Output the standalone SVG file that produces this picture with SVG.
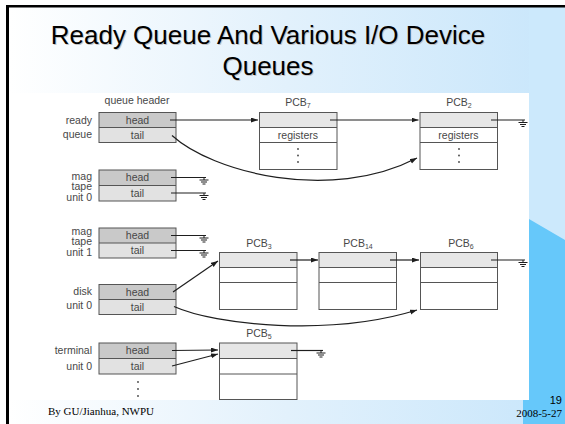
<svg xmlns="http://www.w3.org/2000/svg" width="565" height="424" viewBox="0 0 565 424">
<defs>
<linearGradient id="bg" x1="0" y1="0" x2="1" y2="0">
<stop offset="0" stop-color="#ffffff"/>
<stop offset="0.5" stop-color="#e2f1fc"/>
<stop offset="1" stop-color="#c8e6fb"/>
</linearGradient>
<marker id="ah" markerUnits="userSpaceOnUse" markerWidth="8" markerHeight="6" refX="7" refY="2.5" orient="auto">
<path d="M0,0 L7,2.5 L0,5 z" fill="#1e1e1e"/>
</marker>
<style>
.box{fill:none;stroke:#555;stroke-width:1}
.hd{fill:#c9c9c9}
.tl{fill:#e2e2e2}
.pr{fill:#e6e6e6}
.t{font-family:"Liberation Sans",Arial,sans-serif;font-size:10.5px;fill:#474747}
.m{text-anchor:middle}
.r{text-anchor:end}
.ln{fill:none;stroke:#1e1e1e;stroke-width:1.2}
.gnd{fill:none;stroke:#1e1e1e;stroke-width:1}
.title{font-family:"Liberation Sans",Arial,sans-serif;font-size:26px;text-anchor:middle}
.foot{font-family:"Liberation Serif","Times New Roman",serif;font-size:11px;fill:#000}
</style>
</defs>
<!-- slide background -->
<rect x="0" y="0" width="565" height="424" fill="#ffffff"/>
<rect x="9" y="7" width="556" height="417" fill="url(#bg)"/>
<rect x="529" y="7" width="36" height="417" fill="#cce9fc"/>
<polygon points="529,219 565,240 565,424 523,424 523,400 529,400" fill="#66c8fa"/>
<rect x="6" y="5" width="559" height="2.5" fill="#000"/>
<rect x="6" y="5" width="3" height="419" fill="#000"/>
<!-- title -->
<g id="title">
<text class="title" x="269" y="45" fill="#c4c4c4">Ready Queue And Various I/O Device</text>
<text class="title" x="268" y="44" fill="#000">Ready Queue And Various I/O Device</text>
<text class="title" x="269" y="76" fill="#c4c4c4">Queues</text>
<text class="title" x="268" y="75" fill="#000">Queues</text>
</g>
<!-- diagram picture area -->
<rect x="9" y="93" width="520" height="307" fill="#ffffff"/>
<text class="t m" x="137" y="104">queue header</text>

<g id="ready-queue">
<rect class="hd" x="99" y="112.5" width="77" height="15"/>
<rect class="tl" x="99" y="127.5" width="77" height="15"/>
<rect class="box" x="99" y="112.5" width="77" height="30"/>
<line class="box" x1="99" y1="127.5" x2="176" y2="127.5"/>
<text class="t m" x="137.5" y="123.5">head</text>
<text class="t m" x="137.5" y="138.5">tail</text>
<text class="t r" x="92" y="123.5">ready</text>
<text class="t r" x="92" y="138">queue</text>
</g>

<g id="mag-tape-0">
<rect class="hd" x="99" y="170" width="77" height="15.5"/>
<rect class="tl" x="99" y="185.5" width="77" height="15.5"/>
<rect class="box" x="99" y="170" width="77" height="31"/>
<line class="box" x1="99" y1="185.5" x2="176" y2="185.5"/>
<text class="t m" x="137.5" y="181">head</text>
<text class="t m" x="137.5" y="196.5">tail</text>
<text class="t r" x="92" y="179.5">mag</text>
<text class="t r" x="92" y="190">tape</text>
<text class="t r" x="92" y="200.5">unit 0</text>
</g>

<g id="mag-tape-1">
<rect class="hd" x="99" y="228" width="77" height="15"/>
<rect class="tl" x="99" y="243" width="77" height="15"/>
<rect class="box" x="99" y="228" width="77" height="30"/>
<line class="box" x1="99" y1="243" x2="176" y2="243"/>
<text class="t m" x="137.5" y="239">head</text>
<text class="t m" x="137.5" y="254">tail</text>
<text class="t r" x="92" y="234.5">mag</text>
<text class="t r" x="92" y="245">tape</text>
<text class="t r" x="92" y="255.5">unit 1</text>
</g>

<g id="disk-unit-0">
<rect class="hd" x="99" y="284.5" width="77" height="15"/>
<rect class="tl" x="99" y="299.5" width="77" height="15"/>
<rect class="box" x="99" y="284.5" width="77" height="30"/>
<line class="box" x1="99" y1="299.5" x2="176" y2="299.5"/>
<text class="t m" x="137.5" y="295.5">head</text>
<text class="t m" x="137.5" y="310.5">tail</text>
<text class="t r" x="92" y="295">disk</text>
<text class="t r" x="92" y="308.5">unit 0</text>
</g>

<g id="terminal-unit-0">
<rect class="hd" x="99" y="343" width="77" height="15.5"/>
<rect class="tl" x="99" y="358.5" width="77" height="15.5"/>
<rect class="box" x="99" y="343" width="77" height="31"/>
<line class="box" x1="99" y1="358.5" x2="176" y2="358.5"/>
<text class="t m" x="137.5" y="354">head</text>
<text class="t m" x="137.5" y="369.5">tail</text>
<text class="t r" x="92" y="354">terminal</text>
<text class="t r" x="92" y="369.5">unit 0</text>
<circle cx="138" cy="382" r="0.9" fill="#444"/>
<circle cx="138" cy="389" r="0.9" fill="#444"/>
<circle cx="138" cy="396" r="0.9" fill="#444"/>
</g>

<g id="pcb7">
<text class="t m" x="298" y="106">PCB<tspan font-size="7" dy="2">7</tspan></text>
<rect class="pr" x="259.5" y="112.5" width="77.5" height="15"/>
<rect class="box" x="259.5" y="112.5" width="77.5" height="57"/>
<line class="box" x1="259.5" y1="127.5" x2="337" y2="127.5"/>
<line class="box" x1="259.5" y1="142.5" x2="337" y2="142.5"/>
<text class="t m" x="298" y="138.5">registers</text>
<circle cx="298" cy="149" r="0.9" fill="#444"/>
<circle cx="298" cy="155.5" r="0.9" fill="#444"/>
<circle cx="298" cy="162" r="0.9" fill="#444"/>
</g>

<g id="pcb2">
<text class="t m" x="459" y="106">PCB<tspan font-size="7" dy="2">2</tspan></text>
<rect class="pr" x="420" y="112.5" width="77.5" height="15"/>
<rect class="box" x="420" y="112.5" width="77.5" height="57"/>
<line class="box" x1="420" y1="127.5" x2="497.5" y2="127.5"/>
<line class="box" x1="420" y1="142.5" x2="497.5" y2="142.5"/>
<text class="t m" x="458.5" y="138.5">registers</text>
<circle cx="459" cy="149" r="0.9" fill="#444"/>
<circle cx="459" cy="155.5" r="0.9" fill="#444"/>
<circle cx="459" cy="162" r="0.9" fill="#444"/>
</g>

<g id="pcb3">
<text class="t m" x="259" y="247">PCB<tspan font-size="7" dy="2">3</tspan></text>
<rect class="pr" x="219.5" y="252.5" width="77.5" height="15"/>
<rect class="box" x="219.5" y="252.5" width="77.5" height="57"/>
<line class="box" x1="219.5" y1="267.5" x2="297" y2="267.5"/>
<line class="box" x1="219.5" y1="282.5" x2="297" y2="282.5"/>
</g>

<g id="pcb14">
<text class="t m" x="358" y="247">PCB<tspan font-size="7" dy="2">14</tspan></text>
<rect class="pr" x="319" y="252.5" width="77.5" height="15"/>
<rect class="box" x="319" y="252.5" width="77.5" height="57"/>
<line class="box" x1="319" y1="267.5" x2="396.5" y2="267.5"/>
<line class="box" x1="319" y1="282.5" x2="396.5" y2="282.5"/>
</g>

<g id="pcb6">
<text class="t m" x="461" y="247">PCB<tspan font-size="7" dy="2">6</tspan></text>
<rect class="pr" x="420.5" y="252.5" width="77" height="15"/>
<rect class="box" x="420.5" y="252.5" width="77" height="57"/>
<line class="box" x1="420.5" y1="267.5" x2="497.5" y2="267.5"/>
<line class="box" x1="420.5" y1="282.5" x2="497.5" y2="282.5"/>
</g>

<g id="pcb5">
<text class="t m" x="259" y="337">PCB<tspan font-size="7" dy="2">5</tspan></text>
<rect class="pr" x="219.5" y="343" width="77.5" height="15.5"/>
<rect class="box" x="219.5" y="343" width="77.5" height="56.5"/>
<line class="box" x1="219.5" y1="358.5" x2="297" y2="358.5"/>
<line class="box" x1="219.5" y1="374" x2="297" y2="374"/>
</g>

<g id="connectors">
<path class="ln" d="M170,120 H258" marker-end="url(#ah)"/>
<path class="ln" d="M330,120 H418.5" marker-end="url(#ah)"/>
<path class="ln" d="M172,135.5 C212,172 330,203 417,158" marker-end="url(#ah)"/>
<path class="ln" d="M491,120 H525"/>
<path class="gnd" d="M523,120 v2.5 M518.5,122.5 h9 M520,124.5 h6 M521.5,126.5 h3"/>
<path class="ln" d="M171,177.5 H206"/>
<path class="gnd" d="M204,177.5 v2.5 M199.5,180 h9 M201,182 h6 M202.5,184 h3"/>
<path class="ln" d="M171,193 H206"/>
<path class="gnd" d="M204,193 v2.5 M199.5,195.5 h9 M201,197.5 h6 M202.5,199.5 h3"/>
<path class="ln" d="M171,235.5 H206"/>
<path class="gnd" d="M204,235.5 v2.5 M199.5,238 h9 M201,240 h6 M202.5,242 h3"/>
<path class="ln" d="M171,250.5 H206"/>
<path class="gnd" d="M204,250.5 v2.5 M199.5,253 h9 M201,255 h6 M202.5,257 h3"/>
<path class="ln" d="M173,292 L218,261" marker-end="url(#ah)"/>
<path class="ln" d="M290,260 H318" marker-end="url(#ah)"/>
<path class="ln" d="M390,260 H419" marker-end="url(#ah)"/>
<path class="ln" d="M491,260 H525"/>
<path class="gnd" d="M523,260 v2.5 M518.5,262.5 h9 M520,264.5 h6 M521.5,266.5 h3"/>
<path class="ln" d="M174,306.5 C215,325 330,337 417,310" marker-end="url(#ah)"/>
<path class="ln" d="M172,350.5 L218,350" marker-end="url(#ah)"/>
<path class="ln" d="M172,366 L218,354" marker-end="url(#ah)"/>
<path class="ln" d="M291,350.5 H323"/>
<path class="gnd" d="M321,350.5 v2.5 M316.5,353 h9 M318,355 h6 M319.5,357 h3"/>
</g>

<!-- footer -->
<text class="foot" x="48" y="415">By GU/Jianhua, NWPU</text>
<text x="562" y="404" font-family="'Liberation Sans',Arial,sans-serif" font-size="11" text-anchor="end" fill="#000">19</text>
<text class="foot" x="562" y="417" text-anchor="end">2008-5-27</text>
</svg>
